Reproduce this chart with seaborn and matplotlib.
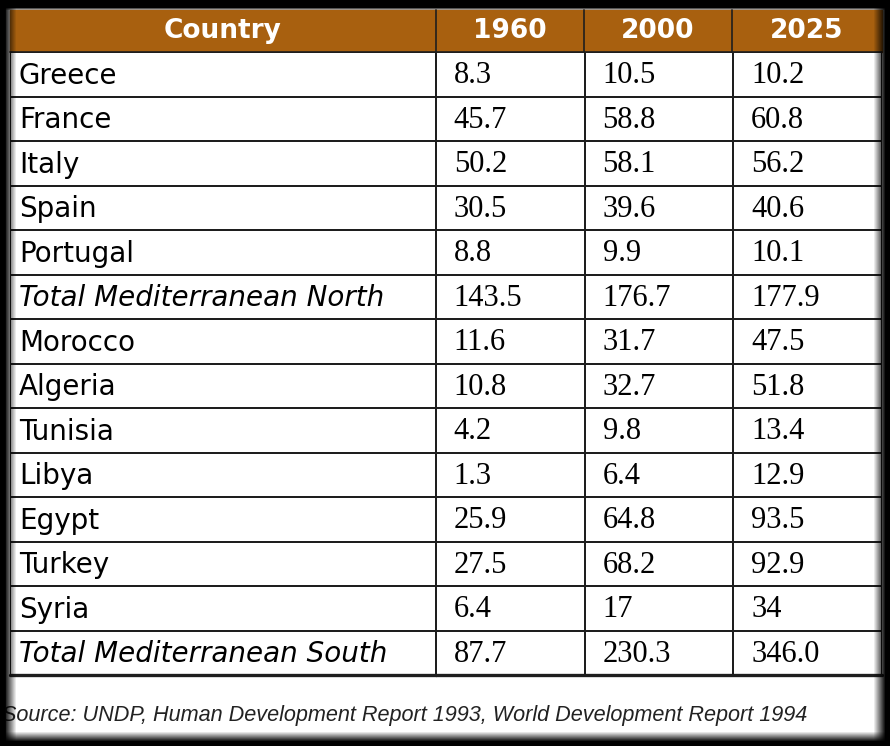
import numpy as np
import pandas as pd
import matplotlib.pyplot as plt
from matplotlib.colors import ListedColormap
from matplotlib.patches import Rectangle
import seaborn as sns

# ---------------------------
# Data
# ---------------------------
countries = ["Greece", "France", "Italy", "Spain", "Portugal",
             "Total Mediterranean North", "Morocco", "Algeria", "Tunisia",
             "Libya", "Egypt", "Turkey", "Syria", "Total Mediterranean South"]
years = ["1960", "2000", "2025"]
v1960 = ["8.3", "45.7", "50.2", "30.5", "8.8", "143.5", "11.6", "10.8", "4.2",
         "1.3", "25.9", "27.5", "6.4", "87.7"]
v2000 = ["10.5", "58.8", "58.1", "39.6", "9.9", "176.7", "31.7", "32.7", "9.8",
         "6.4", "64.8", "68.2", "17", "230.3"]
v2025 = ["10.2", "60.8", "56.2", "40.6", "10.1", "177.9", "47.5", "51.8", "13.4",
         "12.9", "93.5", "92.9", "34", "346.0"]
totals = ["Total Mediterranean North", "Total Mediterranean South"]
source = "Source: UNDP, Human Development Report 1993, World Development Report 1994"

df = pd.DataFrame({"1960": v1960, "2000": v2000, "2025": v2025}, index=countries)

# ---------------------------
# Style
# ---------------------------
sns.set_theme(style="white")
plt.rcParams["font.family"] = ["DejaVu Sans"]

W, H = 890, 746
brown = "#A8600F"
line_c = "#1e1e1e"

fig = plt.figure(figsize=(W / 100, H / 100), dpi=100, facecolor="black")


def px_axes(x0, y0, x1, y1, z=1):
    return fig.add_axes([x0 / W, 1 - y1 / H, (x1 - x0) / W, (y1 - y0) / H], zorder=z)


# background panel
bg = px_axes(0, 0, W, H, z=0)
bg.set_xlim(0, W)
bg.set_ylim(H, 0)
bg.axis("off")
bg.add_patch(Rectangle((0, 0), W, H, color="black"))
bg.add_patch(Rectangle((6, 8), 878, 735, color="white"))

# header
left, c1, c2, c3, right = 10, 436, 584, 732, 882
top, head_bot, body_bot = 10, 52, 675
bg.add_patch(Rectangle((left, top), right - left, head_bot - top, color=brown, zorder=2))
for xc in [c1, c2, c3]:
    bg.plot([xc, xc], [top, head_bot], color=line_c, lw=1.2, zorder=3)
bg.plot([left, right], [head_bot, head_bot], color=line_c, lw=1.2, zorder=3)
heads = ["Country"] + years
edges = [left, c1, c2, c3, right]
for i, h in enumerate(heads):
    bg.text((edges[i] + edges[i + 1]) / 2, 31.5, h, ha="center", va="center",
            color="white", fontsize=19, fontweight="bold", zorder=4)

# source line
bg.text(2, 716, source, ha="left", va="center", fontsize=15.6,
        style="italic", family=["Liberation Sans", "DejaVu Sans"],
        color="#222222", zorder=4)

white = ListedColormap(["white"])

# country column
ax0 = px_axes(left, head_bot, c1, body_bot, z=2)
sns.heatmap(np.zeros((len(countries), 1)), ax=ax0, cmap=white, cbar=False,
            linewidths=1.2, linecolor=line_c, xticklabels=False, yticklabels=False)
for i, c in enumerate(countries):
    ax0.text(0.021, i + 0.53, c, ha="left", va="center", fontsize=20,
             style="italic" if c in totals else "normal", color="black")

# values
ax1 = px_axes(c1, head_bot, right, body_bot, z=2)
sns.heatmap(np.zeros(df.shape), ax=ax1, cmap=white, cbar=False,
            annot=df.values, fmt="", linewidths=1.2, linecolor=line_c,
            xticklabels=False, yticklabels=False,
            annot_kws={"fontsize": 22, "family": "Liberation Serif", "color": "black"})
for t in ax1.texts:
    x, y = t.get_position()
    t.set_position((x - 0.5 + 0.12, y + 0.03))
    t.set_ha("left")
    t.set_color("black")

# thicker bottom rule
ax1.axhline(len(countries), color=line_c, lw=2.4, clip_on=False)
ax0.axhline(len(countries), color=line_c, lw=2.4, clip_on=False)

# soft shadow overlay on the edges
ov = px_axes(0, 0, W, H, z=10)
ov.axis("off")
xx = np.arange(W)[None, :]
yy = np.arange(H)[:, None]
mask = (np.clip((xx - 4) / 12, 0, 1) * np.clip((885 - xx) / 12, 0, 1)
        * np.clip((741 - yy) / 10, 0, 1) * np.clip((yy - 7) / 3, 0, 1))
rgba = np.zeros((H, W, 4))
rgba[..., 3] = 1 - mask
ov.imshow(rgba, extent=(0, W, H, 0), aspect="auto", interpolation="bilinear")
ov.set_xlim(0, W)
ov.set_ylim(H, 0)

fig.savefig("out.png", dpi=100, facecolor="black")
